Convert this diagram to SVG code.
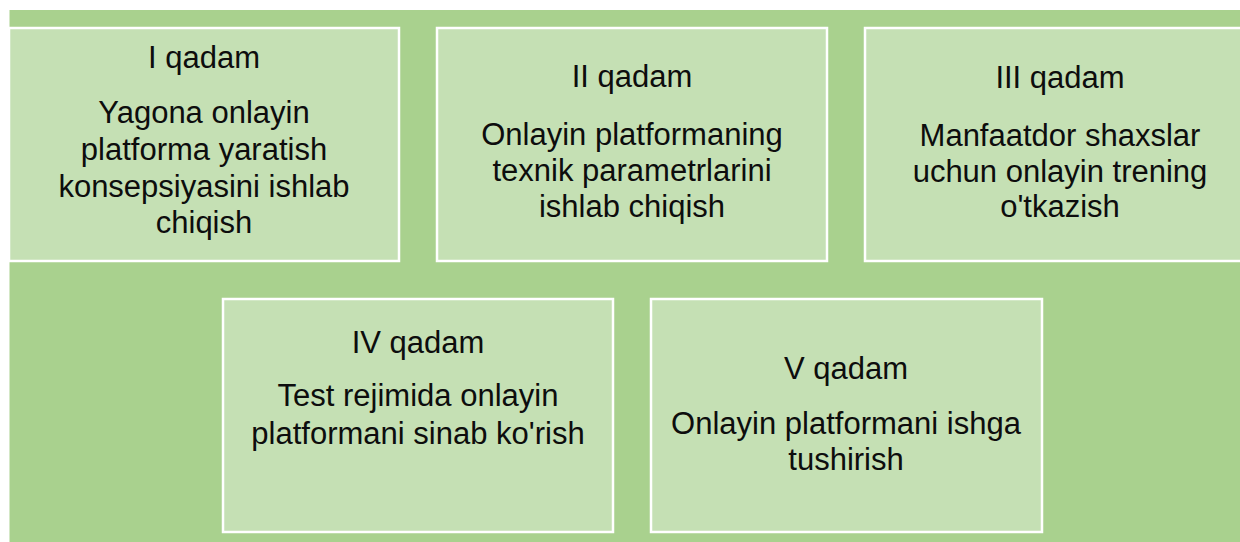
<svg xmlns="http://www.w3.org/2000/svg" width="1240" height="542" viewBox="0 0 1240 542">
<style>
.box{fill:#C5E0B4;stroke:#FFFFFF;stroke-width:2.5}
.t{font-family:"Liberation Sans",Arial,sans-serif;font-size:31px;fill:#0D0D0D;text-anchor:middle}
</style>
<rect x="0" y="0" width="1240" height="542" fill="#FFFFFF"/>
<rect x="9.5" y="10" width="1231" height="532" fill="#A9D18E"/>
<g id="connectors"></g>
<g id="step1">
<rect class="box" x="9" y="28" width="390" height="233"/>
<text class="t"><tspan x="204" y="68">I qadam</tspan><tspan x="204" y="123">Yagona onlayin</tspan><tspan x="204" y="160">platforma yaratish</tspan><tspan x="204" y="197">konsepsiyasini ishlab</tspan><tspan x="204" y="233">chiqish</tspan></text>
</g>
<g id="step2">
<rect class="box" x="437" y="28" width="390" height="233"/>
<text class="t"><tspan x="632" y="87">II qadam</tspan><tspan x="632" y="145">Onlayin platformaning</tspan><tspan x="632" y="181">texnik parametrlarini</tspan><tspan x="632" y="217">ishlab chiqish</tspan></text>
</g>
<g id="step3">
<rect class="box" x="865" y="28" width="390" height="233"/>
<text class="t"><tspan x="1060" y="88">III qadam</tspan><tspan x="1060" y="146">Manfaatdor shaxslar</tspan><tspan x="1060" y="182">uchun onlayin trening</tspan><tspan x="1060" y="217">o'tkazish</tspan></text>
</g>
<g id="step4">
<rect class="box" x="223" y="299" width="390" height="233"/>
<text class="t"><tspan x="418" y="353">IV qadam</tspan><tspan x="418" y="406">Test rejimida onlayin</tspan><tspan x="418" y="444">platformani sinab ko'rish</tspan></text>
</g>
<g id="step5">
<rect class="box" x="651" y="299" width="391" height="233"/>
<text class="t"><tspan x="846" y="379">V qadam</tspan><tspan x="846" y="434">Onlayin platformani ishga</tspan><tspan x="846" y="470">tushirish</tspan></text>
</g>
</svg>
